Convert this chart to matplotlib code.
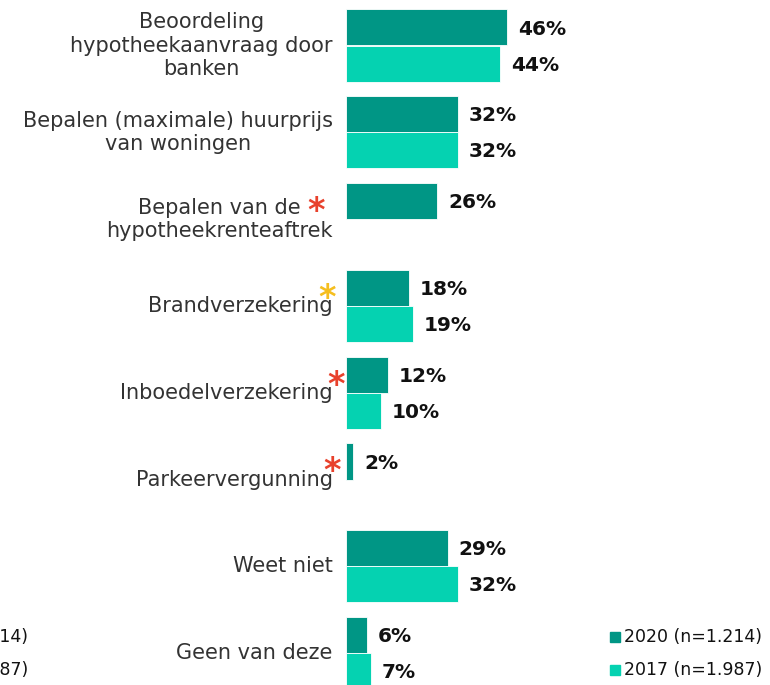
import matplotlib
matplotlib.use("Agg")
import matplotlib.pyplot as plt
import numpy as np

plt.rcParams['font.family'] = ['DejaVu Sans']

categories = [
    "Beoordeling\nhypotheekaanvraag door\nbanken",
    "Bepalen (maximale) huurprijs\nvan woningen",
    "Bepalen van de\nhypotheekrenteaftrek",
    "Brandverzekering",
    "Inboedelverzekering",
    "Parkeervergunning",
    "Weet niet",
    "Geen van deze",
]
values_2020 = [46, 32, 26, 18, 12, 2, 29, 6]
values_2017 = [44, 32, None, 19, 10, None, 32, 7]
series_labels = ["2020 (n=1.214)", "2017 (n=1.987)"]
# significance markers: (category index, colour)
markers = [(2, "#E8412C"), (3, "#F5BE1E"), (4, "#E8412C"), (5, "#E8412C")]

c2020 = "#009685"
c2017 = "#05D2B1"
text_col = "#333333"

W, H = 770, 685
fig = plt.figure(figsize=(W / 100, H / 100), dpi=100)
pitch = 86.8
top0 = 45.5
ax = fig.add_axes([346 / W, 0, 350 / W, 1])
ax.set_xlim(0, 100)
ax.set_ylim((H - top0) / pitch, -top0 / pitch)
ax.axis("off")

h = 0.415
for i, (v20, v17) in enumerate(zip(values_2020, values_2017)):
    ax.barh(i - h / 2, v20, height=h, color=c2020, edgecolor="white", linewidth=0.6)
    ax.annotate(f"{v20}%", (v20, i - h / 2), xytext=(8, -1.2), textcoords="offset points",
                va="center", ha="left", fontsize=14.5, fontweight="bold", color="#111111")
    if v17 is not None:
        ax.barh(i + h / 2, v17, height=h, color=c2017, edgecolor="white", linewidth=0.6)
        ax.annotate(f"{v17}%", (v17, i + h / 2), xytext=(8, -1.2), textcoords="offset points",
                    va="center", ha="left", fontsize=14.5, fontweight="bold", color="#111111")
    ax.annotate(categories[i], (0, i), xytext=(-9.5, 0), textcoords="offset points",
                ha="right", va="center", multialignment="center", fontsize=15,
                color=text_col, linespacing=1.2)

# asterisks (figure pixel positions)
ast_pos = {2: (316, 202), 3: (327, 289), 4: (336, 376), 5: (332, 463)}
for idx, col in markers:
    px, py = ast_pos[idx]
    fig.text(px / W, 1 - (py + 9) / H, "*", color=col, fontsize=24, fontweight="bold",
             ha="center", va="center")

# legend on the right
leg_y = [637, 670]
for lab, col, ly in zip(series_labels, [c2020, c2017], leg_y):
    fig.patches.append(plt.Rectangle((610 / W, 1 - (ly + 5) / H), 10 / W, 10 / H,
                                     transform=fig.transFigure, color=col))
    fig.text(624 / W, 1 - ly / H, lab, fontsize=12.5, color="#111111", va="center", ha="left")
    # clipped duplicate legend at left edge
    fig.text(28 / W, 1 - ly / H, lab, fontsize=12.5, color="#111111", va="center", ha="right")

fig.savefig("out.png", dpi=100)
